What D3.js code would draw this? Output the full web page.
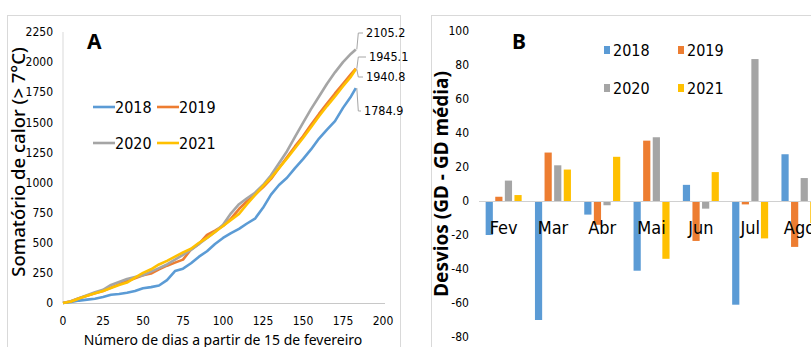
<!DOCTYPE html>
<html>
<head>
<meta charset="utf-8">
<script src="https://d3js.org/d3.v7.min.js"></script>
<style>
  body { margin: 0; background: #fff; }
  text { font-family: "Noto Sans", sans-serif; fill: #000; }
  .narrow { font-family: "Liberation Sans Narrow", "DejaVu Sans Condensed", sans-serif; }
</style>
</head>
<body>
<div id="chart"></div>
<script>
// ---- data: panel A (cumulative heat sum) ----
const days = [0,5,10,15,20,25,30,35,40,45,50,55,60,65,70,75,80,85,90,95,100,105,110,115,120,125,130,135,140,145,150,155,160,165,170,175,180,183];
const sum2018 = [0,8,20,28,35,50,68,75,85,100,122,132,145,190,265,285,330,385,430,490,540,580,615,660,700,790,900,980,1040,1120,1195,1275,1365,1440,1510,1620,1715,1784.9];
const sum2019 = [0,15,40,60,80,100,128,155,180,205,230,245,280,310,335,360,445,490,565,600,640,700,780,845,900,960,1030,1120,1210,1300,1385,1480,1570,1655,1740,1820,1900,1945.1];
const sum2020 = [0,15,40,65,90,110,150,175,200,215,230,260,290,320,360,400,440,490,540,590,650,745,820,870,915,980,1060,1160,1260,1380,1495,1610,1715,1820,1915,2000,2070,2105.2];
const sum2021 = [0,12,38,60,80,100,125,150,170,210,250,280,320,350,385,420,450,500,540,590,640,690,740,820,895,970,1040,1120,1200,1285,1370,1460,1550,1635,1715,1800,1880,1940.8];
const xTicksA = [0,25,50,75,100,125,150,175,200];
const yTicksA = [0,250,500,750,1000,1250,1500,1750,2000,2250];

// ---- data: panel B (monthly deviations) ----
const months = ["Fev","Mar","Abr","Mai","Jun","Jul","Ago"];
const dev2018 = [-20,-70,-8,-41,9.5,-61,27.5];
const dev2019 = [2.5,28.5,-14,35.5,-23.5,-2,-27];
const dev2020 = [12,21,-2.5,37.5,-4.5,83.5,13.5];
const dev2021 = [3.5,18.5,26,-34,17,-22,-13];
const yTicksB = [100,80,60,40,20,0,-20,-40,-60,-80];

const years = ["2018","2019","2020","2021"];
const colors = ["#5B9BD5","#ED7D31","#A5A5A5","#FFC000"];

const W = 811, H = 347;
const svg = d3.select("#chart").append("svg")
  .attr("width", W).attr("height", H);

// panel frames
svg.append("rect").attr("x", 7.5).attr("y", 15.5).attr("width", 393).attr("height", 340)
  .attr("fill", "none").attr("stroke", "#d9d9d9");
svg.append("rect").attr("x", 431.5).attr("y", 15.5).attr("width", 400).attr("height", 340)
  .attr("fill", "none").attr("stroke", "#d9d9d9");

// ================= Panel A =================
const xA = d3.scaleLinear().domain([0, 200]).range([63, 383]);
const yA = d3.scaleLinear().domain([0, 2250]).range([303, 32]);

const gA = svg.append("g");
gA.append("line").attr("x1", 63).attr("x2", 63).attr("y1", 32).attr("y2", 303)
  .attr("stroke", "#d9d9d9");
gA.append("line").attr("x1", 63).attr("x2", 385).attr("y1", 303.5).attr("y2", 303.5)
  .attr("stroke", "#c8c8c8");

gA.selectAll(".ytA").data(yTicksA).join("text")
  .attr("class", "narrow")
  .attr("x", 53).attr("y", d => yA(d)).attr("dy", "0.35em")
  .attr("text-anchor", "end").attr("font-size", 12).text(d => d);
gA.selectAll(".xtA").data(xTicksA).join("text")
  .attr("class", "narrow")
  .attr("x", d => xA(d)).attr("y", 325)
  .attr("text-anchor", "middle").attr("font-size", 12).text(d => d);

gA.append("text").attr("transform", "translate(25,162) rotate(-90)")
  .attr("text-anchor", "middle").attr("font-size", 18.5).attr("font-weight", 500)
  .text("Somatório de calor (> 7°C)");
gA.append("text").attr("x", 223).attr("y", 345)
  .attr("text-anchor", "middle").attr("font-size", 14)
  .text("Número de dias a partir de 15 de fevereiro");
gA.append("text").attr("x", 87).attr("y", 49)
  .attr("font-size", 21).attr("font-weight", "bold").text("A");

const seriesA = [sum2018, sum2019, sum2020, sum2021];
const line = d3.line().x((d, i) => xA(days[i])).y(d => yA(d));
gA.selectAll(".sA").data(seriesA).join("path")
  .attr("d", line).attr("fill", "none")
  .attr("stroke", (d, i) => colors[i]).attr("stroke-width", 2.6)
  .attr("stroke-linejoin", "round");

// legend A
const legA = [{x: 93, y: 107}, {x: 157, y: 107}, {x: 93, y: 143}, {x: 157, y: 143}];
years.forEach((yr, i) => {
  gA.append("line").attr("x1", legA[i].x).attr("x2", legA[i].x + 22)
    .attr("y1", legA[i].y).attr("y2", legA[i].y)
    .attr("stroke", colors[i]).attr("stroke-width", 2.6);
  gA.append("text").attr("class", "narrow")
    .attr("x", legA[i].x + 22).attr("y", legA[i].y).attr("dy", "0.35em")
    .attr("font-size", 16).text(yr);
});

// end labels with leader lines
const lastIdx = days.length - 1;
const endLabels = [
  {v: sum2020[lastIdx], ly: 33, lx: 366},
  {v: sum2019[lastIdx], ly: 57, lx: 369},
  {v: sum2021[lastIdx], ly: 77, lx: 366},
  {v: sum2018[lastIdx], ly: 111, lx: 364}
];
endLabels.forEach(e => {
  const px = xA(days[lastIdx]), py = yA(e.v);
  gA.append("polyline")
    .attr("points", `${px + 1},${py} ${px + 2.5},${e.ly} ${e.lx - 3},${e.ly}`)
    .attr("fill", "none").attr("stroke", "#a6a6a6").attr("stroke-width", 1);
  gA.append("text").attr("class", "narrow")
    .attr("x", e.lx).attr("y", e.ly).attr("dy", "0.35em")
    .attr("font-size", 12.5).text(d3.format(".1f")(e.v));
});

// ================= Panel B =================
const x0 = d3.scaleBand().domain(months).range([479, 479 + 49.3 * months.length])
  .paddingInner(0.27).paddingOuter(0.135);
const x1 = d3.scaleBand().domain(years).range([0, x0.bandwidth()]).paddingInner(0.25);
const yB = d3.scaleLinear().domain([-80, 100]).range([337, 31]);

const gB = svg.append("g");
gB.selectAll(".ytB").data(yTicksB).join("text")
  .attr("class", "narrow")
  .attr("x", 469).attr("y", d => yB(d)).attr("dy", "0.35em")
  .attr("text-anchor", "end").attr("font-size", 12).text(d => d);

gB.append("text").attr("transform", "translate(448,184) rotate(-90)")
  .attr("text-anchor", "middle").attr("font-size", 19).attr("font-weight", "bold")
  .text("Desvios (GD - GD média)");
gB.append("text").attr("x", 512).attr("y", 49)
  .attr("font-size", 21).attr("font-weight", "bold").text("B");

const seriesB = [dev2018, dev2019, dev2020, dev2021];
const barData = [];
months.forEach((m, mi) => {
  years.forEach((yr, yi) => barData.push({m, yr, yi, v: seriesB[yi][mi]}));
});
gB.selectAll(".bar").data(barData).join("rect")
  .attr("x", d => x0(d.m) + x1(d.yr))
  .attr("width", x1.bandwidth())
  .attr("y", d => yB(Math.max(0, d.v)))
  .attr("height", d => Math.abs(yB(d.v) - yB(0)))
  .attr("fill", d => colors[d.yi]);

gB.append("line").attr("x1", 479).attr("x2", W).attr("y1", yB(0) + 0.5).attr("y2", yB(0) + 0.5)
  .attr("stroke", "#d0d0d0");

gB.selectAll(".mlab").data(months).join("text")
  .attr("class", "narrow")
  .attr("x", m => x0(m) + x0.bandwidth() / 2).attr("y", 234)
  .attr("text-anchor", "middle").attr("font-size", 18).text(m => m);

// legend B
const legB = [{x: 604, y: 50}, {x: 678, y: 50}, {x: 604, y: 88}, {x: 678, y: 88}];
years.forEach((yr, i) => {
  gB.append("rect").attr("x", legB[i].x).attr("y", legB[i].y - 4)
    .attr("width", 6).attr("height", 8).attr("fill", colors[i]);
  gB.append("text").attr("class", "narrow")
    .attr("x", legB[i].x + 9).attr("y", legB[i].y).attr("dy", "0.35em")
    .attr("font-size", 16).text(yr);
});
</script>
</body>
</html>
